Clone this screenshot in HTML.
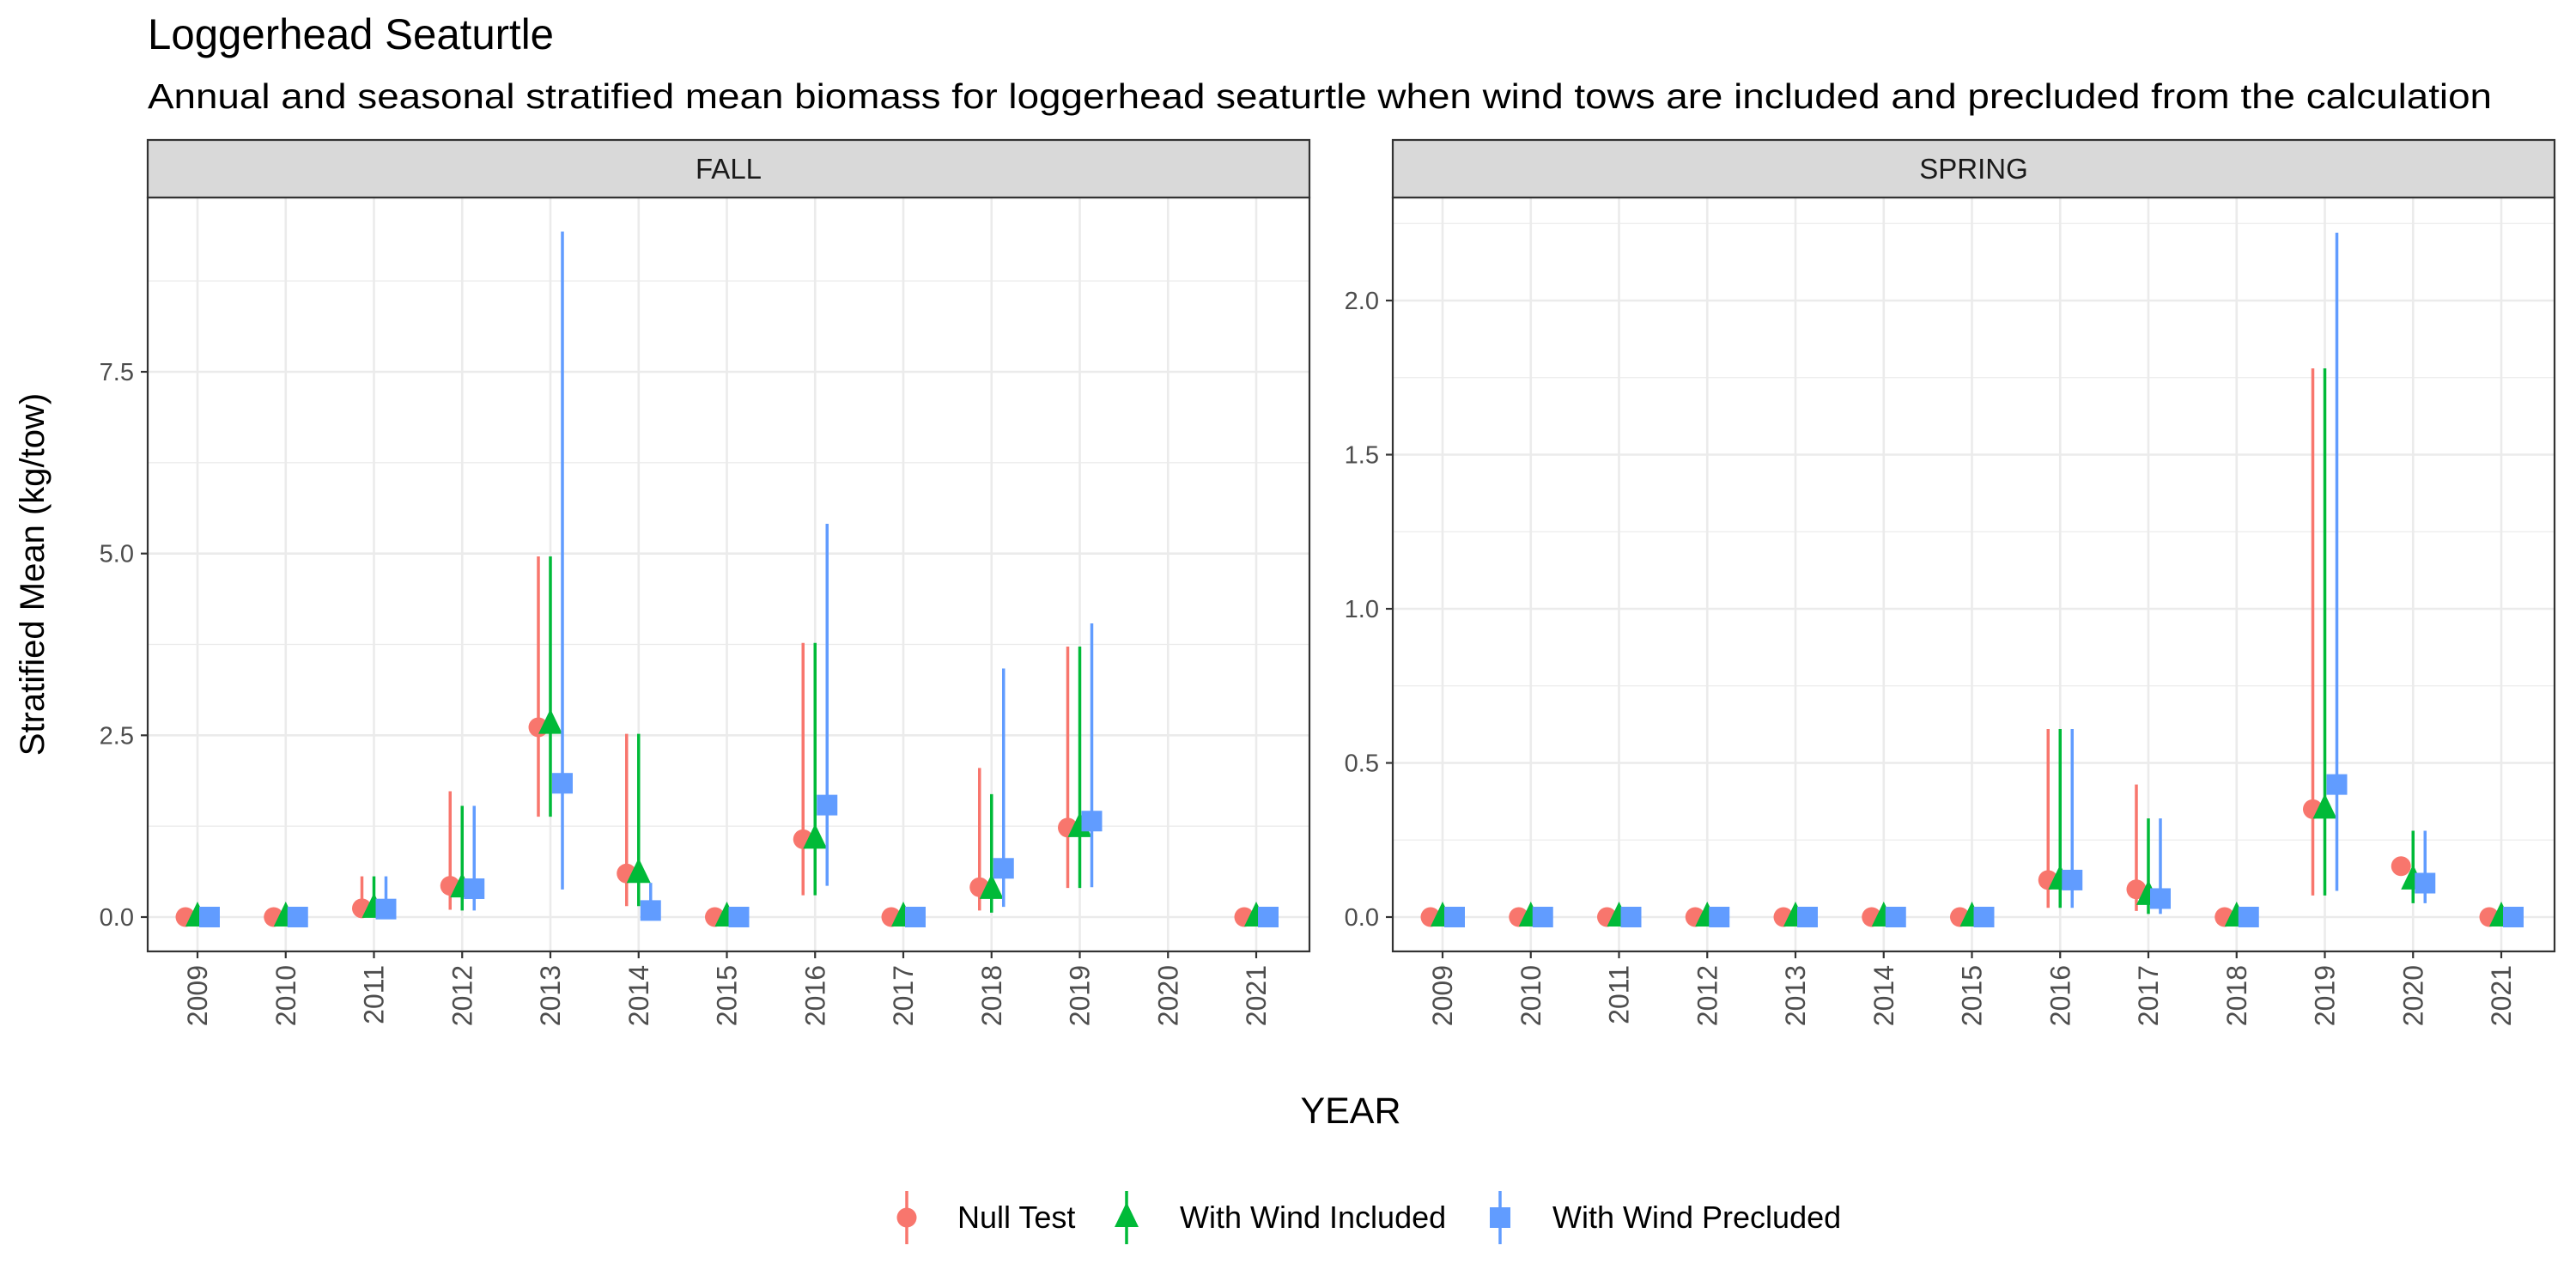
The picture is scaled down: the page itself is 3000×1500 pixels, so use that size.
<!DOCTYPE html>
<html><head><meta charset="utf-8"><style>
html,body{margin:0;padding:0;background:#fff}
svg{display:block;font-family:"Liberation Sans",Arial,sans-serif}
</style></head><body>
<svg id="chart" width="3000" height="1500" viewBox="0 0 3000 1500" xmlns="http://www.w3.org/2000/svg">
<rect width="3000" height="1500" fill="#fff"/>
<text x="172" y="57" font-size="50" fill="#000" textLength="473" lengthAdjust="spacingAndGlyphs">Loggerhead Seaturtle</text>
<text x="172" y="126" font-size="41" fill="#000" textLength="2730" lengthAdjust="spacingAndGlyphs">Annual and seasonal stratified mean biomass for loggerhead seaturtle when wind tows are included and precluded from the calculation</text>
<text transform="translate(51,669) rotate(-90)" text-anchor="middle" font-size="40" fill="#000">Stratified Mean (kg/tow)</text>
<text x="1573" y="1308" text-anchor="middle" font-size="43" fill="#000">YEAR</text>
<g id="panels"></g>
<g id="legend"></g>
</svg>
<script>
const years = [2009,2010,2011,2012,2013,2014,2015,2016,2017,2018,2019,2020,2021];
const seriesNames = ["Null Test","With Wind Included","With Wind Precluded"];
const seriesColors = ["#F8766D","#00BA38","#619CFF"];
// FALL
const fallNull      = [0,0,0.12,0.43,2.61,0.60,0,1.07,0,0.41,1.23,null,0];
const fallNullLo    = [0,0,0,0.10,1.38,0.15,0,0.30,0,0.09,0.40,null,0];
const fallNullHi    = [0,0,0.56,1.73,4.96,2.52,0,3.77,0,2.05,3.72,null,0];
const fallIncl      = [0,0,0.12,0.40,2.65,0.60,0,1.07,0,0.38,1.23,null,0];
const fallInclLo    = [0,0,0,0.09,1.38,0.15,0,0.30,0,0.06,0.40,null,0];
const fallInclHi    = [0,0,0.56,1.53,4.96,2.52,0,3.77,0,1.69,3.72,null,0];
const fallPrec      = [0,0,0.11,0.39,1.84,0.09,0,1.54,0,0.67,1.32,null,0];
const fallPrecLo    = [0,0,0,0.09,0.38,0,0,0.43,0,0.14,0.41,null,0];
const fallPrecHi    = [0,0,0.56,1.53,9.43,0.47,0,5.41,0,3.42,4.04,null,0];
// SPRING
const sprNull       = [0,0,0,0,0,0,0,0.12,0.09,0,0.35,0.165,0];
const sprNullLo     = [0,0,0,0,0,0,0,0.03,0.02,0,0.07,null,0];
const sprNullHi     = [0,0,0,0,0,0,0,0.61,0.43,0,1.78,null,0];
const sprIncl       = [0,0,0,0,0,0,0,0.12,0.07,0,0.35,0.12,0];
const sprInclLo     = [0,0,0,0,0,0,0,0.03,0.01,0,0.07,0.045,0];
const sprInclHi     = [0,0,0,0,0,0,0,0.61,0.32,0,1.78,0.28,0];
const sprPrec       = [0,0,0,0,0,0,0,0.12,0.06,0,0.43,0.11,0];
const sprPrecLo     = [0,0,0,0,0,0,0,0.03,0.01,0,0.085,0.045,0];
const sprPrecHi     = [0,0,0,0,0,0,0,0.61,0.32,0,2.22,0.28,0];
const fallTicks = [0,2.5,5,7.5];
const fallTickLabels = ["0.0","2.5","5.0","7.5"];
const fallMinor = [1.25,3.75,6.25,8.75];
const sprTicks = [0,0.5,1,1.5,2];
const sprTickLabels = ["0.0","0.5","1.0","1.5","2.0"];
const sprMinor = [0.25,0.75,1.25,1.75,2.25];

const NS="http://www.w3.org/2000/svg";
function mk(tag, attrs, parent){const e=document.createElementNS(NS,tag);for(const k in attrs)e.setAttribute(k,attrs[k]);if(parent)parent.appendChild(e);return e;}

const panelTop=230, panelBot=1108, zeroY=1068;
const panels=[
 {name:"FALL",left:172,right:1525,x0:230,ppu:(1068-433)/7.5,ticks:fallTicks,labels:fallTickLabels,minor:fallMinor,
  series:[[fallNull,fallNullLo,fallNullHi],[fallIncl,fallInclLo,fallInclHi],[fallPrec,fallPrecLo,fallPrecHi]]},
 {name:"SPRING",left:1622,right:2975,x0:1680,ppu:(1068-350)/2,ticks:sprTicks,labels:sprTickLabels,minor:sprMinor,
  series:[[sprNull,sprNullLo,sprNullHi],[sprIncl,sprInclLo,sprInclHi],[sprPrec,sprPrecLo,sprPrecHi]]}
];
const step=(1465-232)/12;
const dodge=[-14,0,14];
const root=document.getElementById('panels');

function drawShape(g,k,cx,cy,color){
  let s;
  if(k===0){s=mk('circle',{cx:cx,cy:cy,r:11.5,fill:color},g);}
  else if(k===1){s=mk('polygon',{points:`${cx},${cy-18} ${cx-14},${cy+11} ${cx+14},${cy+11}`,fill:color},g);}
  else {s=mk('rect',{x:cx-12,y:cy-12,width:24,height:24,fill:color},g);}
  return s;
}

panels.forEach((p,pi)=>{
  const g=mk('g',{},root);
  
  
  const ys=v=>zeroY-v*p.ppu;
  const xs=i=>p.x0+i*step;
  mk('rect',{x:p.left,y:panelTop,width:p.right-p.left,height:panelBot-panelTop,fill:'#fff'},g);
  p.minor.forEach(v=>{mk('line',{x1:p.left,x2:p.right,y1:ys(v),y2:ys(v),stroke:'#ebebeb','stroke-width':1.3},g);});
  p.ticks.forEach(v=>{mk('line',{x1:p.left,x2:p.right,y1:ys(v),y2:ys(v),stroke:'#ebebeb','stroke-width':2.6},g);});
  years.forEach((y,i)=>{mk('line',{x1:xs(i),x2:xs(i),y1:panelTop,y2:panelBot,stroke:'#ebebeb','stroke-width':2.6},g);});
  p.series.forEach((ser,k)=>{
    const sg=mk('g',{},g);
    
    
    const [m,lo,hi]=ser;
    years.forEach((yr,i)=>{
      const cx=xs(i)+dodge[k];
      if(lo[i]!==null&&hi[i]!==null&&hi[i]>lo[i]){
        const l=mk('line',{x1:cx,x2:cx,y1:ys(lo[i]),y2:ys(hi[i]),stroke:seriesColors[k],'stroke-width':3.5},sg);
        
        
      }
    });
    years.forEach((yr,i)=>{
      if(m[i]===null)return;
      const s=drawShape(sg,k,xs(i)+dodge[k],ys(m[i]),seriesColors[k]);
      
      
    });
  });
  mk('rect',{x:p.left,y:panelTop,width:p.right-p.left,height:panelBot-panelTop,fill:'none',stroke:'#333','stroke-width':2.2},g);
  const st=mk('rect',{x:p.left,y:163,width:p.right-p.left,height:67,fill:'#d9d9d9',stroke:'#333','stroke-width':2.2},g);
  
  
  const stt=mk('text',{x:(p.left+p.right)/2,y:208,'text-anchor':'middle','font-size':33,fill:'#1a1a1a'},g);
  stt.textContent=p.name;
  
  
  p.ticks.forEach((v,j)=>{
    mk('line',{x1:p.left-8,x2:p.left,y1:ys(v),y2:ys(v),stroke:'#333','stroke-width':2.2},g);
    const t=mk('text',{x:p.left-16,y:ys(v)+10,'text-anchor':'end','font-size':29,fill:'#4d4d4d'},g);
    t.textContent=p.labels[j];
    
    
  });
  years.forEach((yr,i)=>{
    mk('line',{x1:xs(i),x2:xs(i),y1:panelBot,y2:panelBot+8,stroke:'#333','stroke-width':2.2},g);
    const t=mk('text',{transform:`translate(${xs(i)+11},${panelBot+16}) rotate(-90)`,'text-anchor':'end','font-size':32,fill:'#4d4d4d'},g);
    t.textContent=yr;
    
    
  });
});

const lg=document.getElementById('legend');
const keyX=[1056,1312,1747], textX=[1115,1374,1808], ly=1418;
seriesNames.forEach((n,k)=>{
  const e=mk('g',{},lg);
  
  
  mk('line',{x1:keyX[k],x2:keyX[k],y1:ly-31,y2:ly+31,stroke:seriesColors[k],'stroke-width':3.5},e);
  if(k===0) mk('circle',{cx:keyX[k],cy:ly,r:11.5,fill:seriesColors[k]},e);
  else if(k===1) mk('polygon',{points:`${keyX[k]},${ly-18} ${keyX[k]-14},${ly+11} ${keyX[k]+14},${ly+11}`,fill:seriesColors[k]},e);
  else mk('rect',{x:keyX[k]-12,y:ly-12,width:24,height:24,fill:seriesColors[k]},e);
  const t=mk('text',{x:textX[k],y:ly+12,'font-size':36,fill:'#000'},e);
  t.textContent=n;
});
</script>
</body></html>
